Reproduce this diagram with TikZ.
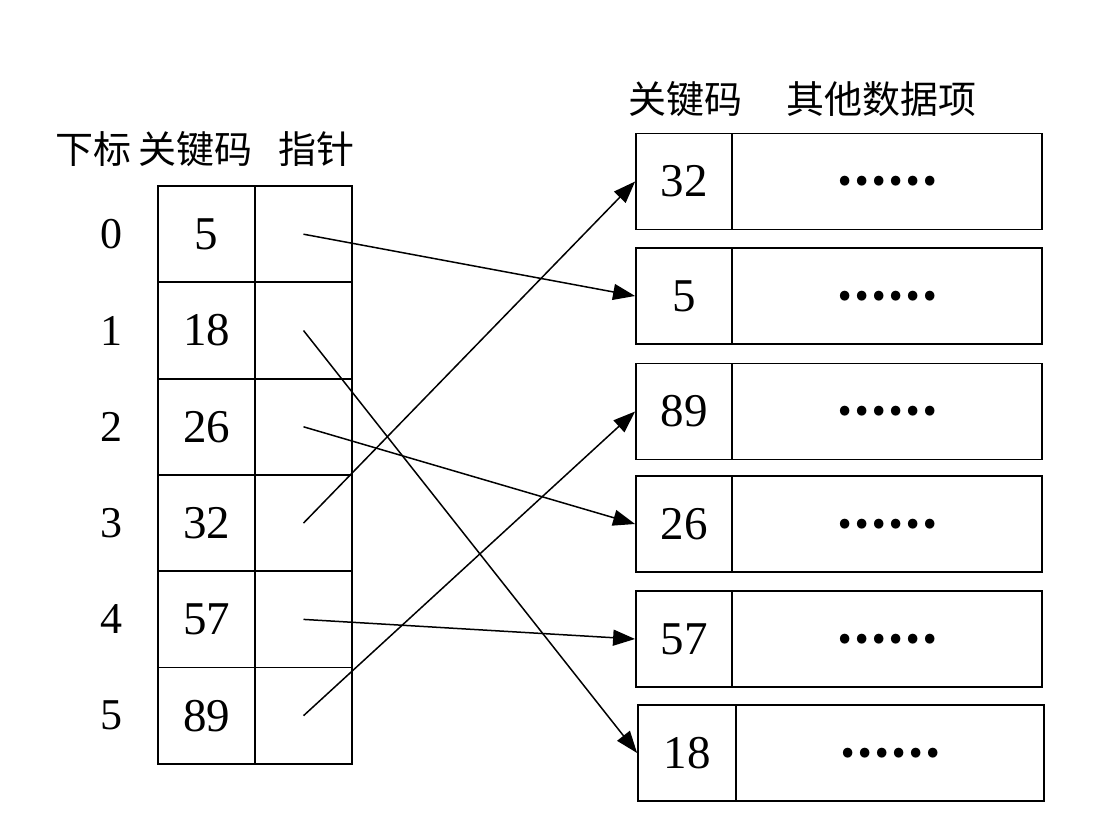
\documentclass[tikz,border=0pt]{standalone}
\usepackage{fontspec}
\setmainfont{Liberation Serif}
\newfontfamily\cjk{Noto Sans CJK SC}
\usetikzlibrary{arrows.meta}
\begin{document}
\begin{tikzpicture}[x=1pt,y=-1pt,
  cell/.style={draw,line width=1.8pt,inner sep=0pt,minimum height=96.3pt,minimum width=97pt,
    font=\fontsize{47}{50}\selectfont},
  rkey/.style={draw,line width=1.8pt,inner sep=0pt,minimum height=96pt,minimum width=96pt,
    font=\fontsize{47}{50}\selectfont},
  rdata/.style={draw,line width=1.8pt,inner sep=0pt,minimum height=96pt,minimum width=310pt,
    font=\cjk\bfseries\fontsize{45}{46}\selectfont},
  idx/.style={font=\fontsize{44}{46}\selectfont},
  head/.style={font=\cjk\fontsize{38}{40}\selectfont,anchor=base},
  ptr/.style={line width=1.5pt,-{Triangle[length=22pt,width=16pt]}}]
\useasboundingbox (0,0) rectangle (1114,826);

% column headings
\node[head] (h1) at (93,164) {下标};
\node[head] (h2) at (195,164) {关键码};
\node[head] (h3) at (316,164) {指针};
\node[head] (h4) at (685,114) {关键码};
\node[head] (h5) at (881,114) {其他数据项};

% index table: row numbers, keys and pointer cells
\foreach \i/\k/\y in {0/5/234.2, 1/18/330.5, 2/26/426.8, 3/32/523.1, 4/57/619.4, 5/89/715.7}{
  \node[idx] (n\i) at (111,\y) {\i};
  \node[cell] (k\i) at (206.5,\y) {\k};
  \node[cell] (p\i) at (303.5,\y) {};
}

% record blocks: key and other data items
\foreach \j/\k/\y in {1/32/181.5, 2/5/296, 3/89/411.5, 4/26/524, 5/57/639}{
  \node[rkey] (r\j) at (684,\y) {\k};
  \node[rdata] (d\j) at (887,\y) {……};
}
\node[rkey,minimum width=98pt] (r6) at (687,753) {18};
\node[rdata,minimum width=308pt] (d6) at (890,753) {……};

% pointers from the index to the records
\draw[ptr] (p0.center) -- (r2.west);
\draw[ptr] (p1.center) -- (r6.west);
\draw[ptr] (p2.center) -- (r4.west);
\draw[ptr] (p3.center) -- (r1.west);
\draw[ptr] (p4.center) -- (r5.west);
\draw[ptr] (p5.center) -- (r3.west);
\end{tikzpicture}
\end{document}
